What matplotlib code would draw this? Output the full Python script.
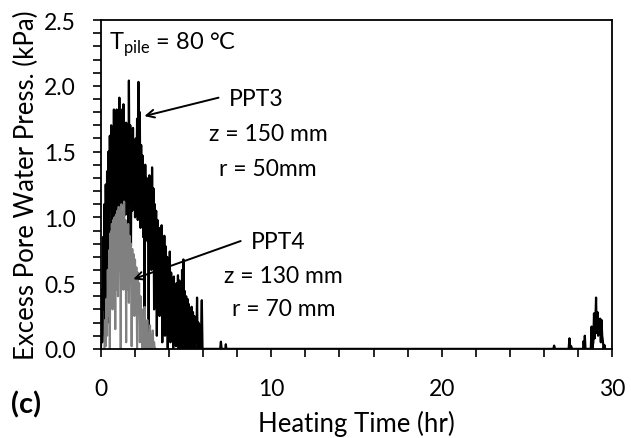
import numpy as np
import matplotlib
matplotlib.use("Agg")
import matplotlib.pyplot as plt
from matplotlib.ticker import MultipleLocator, FormatStrFormatter

plt.rcParams['font.family'] = ['Lato', 'DejaVu Sans']

# PPT3 (black), sampled every 0.04 hr starting at t = 0
ppt3_start, ppt3_step = 0.0, 0.04
ppt3_vals = [
    0.00, 0.45, 0.05, 0.85, 0.30, 1.10, 0.10, 1.25, 0.55, 1.35,
    0.20, 1.50, 0.75, 1.62, 1.05, 1.70, 0.90, 1.58, 1.12, 1.82,
    1.00, 1.75, 1.15, 1.82, 0.95, 1.68, 1.20, 1.91, 1.05, 1.70,
    1.25, 1.82, 1.10, 1.86, 1.22, 1.65, 1.02, 1.72, 1.18, 1.60,
    0.85, 2.04, 1.10, 1.70, 0.78, 1.62, 1.05, 1.68, 1.20, 1.55,
    1.00, 1.60, 1.15, 1.75, 0.98, 2.03, 1.08, 1.80, 0.92, 1.55,
    1.00, 1.47, 0.85, 1.38, 0.20, 1.40, 0.90, 1.30, 0.82, 1.25,
    0.05, 1.32, 0.88, 1.20, 0.60, 1.38, 0.85, 1.22, 0.30, 1.10,
    0.75, 1.05, 0.10, 0.98, 0.55, 0.92, 0.25, 0.88, 0.40, 0.94,
    0.05, 0.82, 0.35, 0.86, 0.10, 0.78, 0.30, 0.70, 0.00, 0.66,
    0.20, 0.74, 0.05, 0.58, 0.25, 0.52, 0.00, 0.55, 0.15, 0.48,
    0.02, 0.50, 0.20, 0.56, 0.00, 0.52, 0.10, 0.45, 0.00, 0.60,
    0.12, 0.68, 0.00, 0.44, 0.08, 0.40, 0.00, 0.38, 0.10, 0.34,
    0.00, 0.30, 0.05, 0.32, 0.00, 0.28, 0.04, 0.25, 0.00, 0.22,
    0.05, 0.39, 0.00, 0.20, 0.02, 0.18, 0.00, 0.15, 0.37, 0.00,
    0.00,
]
# PPT3 isolated readings later in the test
ppt3_late_t = [6.50, 7.00, 7.04, 7.08, 7.30, 7.33, 7.36, 26.55, 26.60, 26.65,
               27.45, 27.50, 27.55, 27.60, 27.65, 28.30, 28.33, 28.37, 28.40, 28.44,
               28.75, 28.80, 28.84, 28.90, 28.94, 28.98, 29.02, 29.06, 29.10, 29.14,
               29.18, 29.22, 29.26, 29.30, 29.34, 29.38, 29.42, 29.46, 29.50, 29.55,
               29.60]
ppt3_late_v = [0.00, 0.00, 0.055, 0.00, 0.00, 0.035, 0.00, 0.00, 0.025, 0.00,
               0.00, 0.08, 0.00, 0.02, 0.00, 0.00, 0.06, 0.00, 0.10, 0.00,
               0.00, 0.17, 0.00, 0.05, 0.27, 0.08, 0.20, 0.39, 0.12, 0.28,
               0.10, 0.22, 0.15, 0.23, 0.05, 0.22, 0.10, 0.06, 0.00, 0.03,
               0.00]

# PPT4 (grey), sampled every 0.04 hr starting at t = 0.2
ppt4_start, ppt4_step = 0.20, 0.04
ppt4_vals = [
    0.00, 0.22, 0.02, 0.38, 0.10, 0.60, 0.25, 0.75, 0.00, 0.88,
    0.40, 0.95, 0.30, 0.98, 0.50, 1.00, 0.15, 1.02, 0.45, 1.05,
    0.40, 1.08, 0.60, 1.00, 0.00, 1.10, 0.50, 1.04, 0.45, 1.12,
    0.55, 0.98, 0.05, 0.92, 0.45, 0.95, 0.35, 0.86, 0.50, 0.80,
    0.02, 0.76, 0.40, 0.72, 0.25, 0.68, 0.40, 0.62, 0.00, 0.58,
    0.30, 0.50, 0.05, 0.40, 0.15, 0.30, 0.00, 0.24, 0.05, 0.32,
    0.00, 0.15, 0.00, 0.22, 0.02, 0.12, 0.00, 0.18, 0.00, 0.10,
    0.00, 0.14, 0.00, 0.05, 0.00, 0.00,
]

ppt3_t = ppt3_start + ppt3_step * np.arange(len(ppt3_vals))
ppt3_t = np.concatenate([ppt3_t, ppt3_late_t])
ppt3_v = np.concatenate([ppt3_vals, ppt3_late_v])
ppt4_t = ppt4_start + ppt4_step * np.arange(len(ppt4_vals))

fs_tick = 16.5
fs_note = 16.5

fig = plt.figure(figsize=(6.31, 4.39), dpi=100)
ax = fig.add_axes([0.160, 0.203, 0.810, 0.749])

ax.plot(ppt3_t, ppt3_v, color="black", lw=1.6)
ax.plot(ppt4_t, ppt4_vals, color="#808080", lw=1.5)

ax.set_xlim(0, 30)
ax.set_ylim(0, 2.5)
ax.xaxis.set_major_locator(MultipleLocator(10))
ax.xaxis.set_minor_locator(MultipleLocator(2))
ax.yaxis.set_major_locator(MultipleLocator(0.5))
ax.yaxis.set_minor_locator(MultipleLocator(0.1))
ax.yaxis.set_major_formatter(FormatStrFormatter("%.1f"))
ax.tick_params(which="both", direction="out", length=6, width=1.2,
               labelsize=fs_tick, top=False, right=False)
ax.tick_params(axis="x", which="major", pad=15)
ax.tick_params(axis="y", which="major", pad=12)
for s in ax.spines.values():
    s.set_linewidth(1.3)

ax.set_xlabel("Heating Time (hr)", fontsize=18.5, labelpad=8)
ax.set_ylabel("Excess Pore Water Press. (kPa)", fontsize=18.5, labelpad=4)

ax.text(0.5, 2.32, r"T$_{\mathregular{pile}}$ = 80 °C", fontsize=17, va="center")

arrow = dict(arrowstyle="->", color="black", lw=1.4,
             mutation_scale=14, shrinkA=0, shrinkB=0)
ax.annotate("", xy=(2.55, 1.77), xytext=(6.9, 1.91), arrowprops=arrow)
ax.text(9.1, 1.90, "PPT3", fontsize=fs_note, ha="center", va="center")
ax.text(9.8, 1.64, "z = 150 mm", fontsize=fs_note, ha="center", va="center")
ax.text(9.8, 1.37, "r = 50mm", fontsize=fs_note, ha="center", va="center")

ax.annotate("", xy=(1.9, 0.53), xytext=(8.2, 0.82), arrowprops=arrow)
ax.text(10.4, 0.82, "PPT4", fontsize=fs_note, ha="center", va="center")
ax.text(10.7, 0.56, "z = 130 mm", fontsize=fs_note, ha="center", va="center")
ax.text(10.75, 0.31, "r = 70 mm", fontsize=fs_note, ha="center", va="center")

fig.text(0.018, 1 - 405 / 439, "(c)", fontsize=21, fontweight="bold", va="center")

fig.savefig("out.png", dpi=100)
